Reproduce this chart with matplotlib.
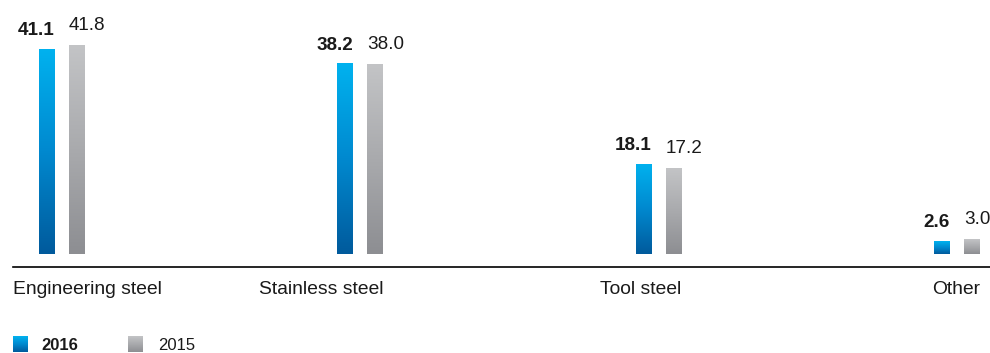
import matplotlib
matplotlib.use("Agg")
import matplotlib.pyplot as plt
import matplotlib.transforms as mtransforms
import numpy as np
from matplotlib.colors import LinearSegmentedColormap

categories = ["Engineering steel", "Stainless steel", "Tool steel", "Other"]
values_2016 = [41.1, 38.2, 18.1, 2.6]
values_2015 = [41.8, 38.0, 17.2, 3.0]
years = ["2016", "2015"]

plt.rcParams["font.family"] = ["Liberation Sans", "DejaVu Sans"]

W, H = 990, 353
fig = plt.figure(figsize=(W / 100, H / 100), dpi=100)
ax = fig.add_axes([13 / W, (H - 267) / H, (W - 13) / W, 267 / H])

blue = LinearSegmentedColormap.from_list("blue", ["#005a9c", "#0089cf", "#00b2ef"])
grey = LinearSegmentedColormap.from_list("grey", ["#8d8e92", "#a9aaad", "#c3c4c6"])
grad = np.linspace(0, 1, 256).reshape(-1, 1)

x = np.arange(len(categories))
bw, off = 0.0536, 0.0503


def gradient_bars(xs, vals, cmap):
    bars = ax.bar(xs, vals, width=bw, color="none", linewidth=0)
    for b in bars:
        x0, y0 = b.get_x(), b.get_y()
        im = ax.imshow(grad, cmap=cmap, origin="lower", aspect="auto",
                       extent=(x0, x0 + b.get_width(), y0, y0 + b.get_height()),
                       zorder=2)
        im.set_clip_path(b)
    return bars


gradient_bars(x - off, values_2016, blue)
gradient_bars(x + off, values_2015, grey)

ax.set_xlim(-0.164, 3.111)
ax.set_ylim(-2.606, 50.92)
for s in ["top", "right", "left"]:
    ax.spines[s].set_visible(False)
ax.spines["bottom"].set_linewidth(1.2)
ax.set_xticks([])
ax.set_yticks([])

# value labels: 2016 right-aligned over blue bar, 2015 left-aligned over grey bar
for xi, v16, v15 in zip(x, values_2016, values_2015):
    ax.annotate(f"{v16:.1f}", (xi - off + bw / 2, v16), xytext=(0, 10),
                textcoords="offset points", ha="right", va="baseline",
                fontsize=13.6, fontweight="bold", color="#1a1a1a")
    ax.annotate(f"{v15:.1f}", (xi + off - bw / 2, v15), xytext=(0, 11),
                textcoords="offset points", ha="left", va="baseline",
                fontsize=13.6, color="#1a1a1a")

# category labels
trans = mtransforms.blended_transform_factory(ax.transData, ax.transAxes)
ly = -27 / 267
ax.text(-0.164, ly, categories[0], transform=trans, ha="left", va="baseline",
        fontsize=13.9, color="#1a1a1a")
for xi, name in zip(x[1:], categories[1:]):
    ax.text(xi + off + bw / 2, ly, name, transform=trans, ha="right",
            va="baseline", fontsize=13.9, color="#1a1a1a")

# legend
for px, cmap, label, weight, tx in [(13, blue, years[0], "bold", 41),
                                    (128, grey, years[1], "normal", 158)]:
    sw = fig.add_axes([px / W, (H - 352) / H, 15 / W, 16 / H])
    sw.imshow(grad, cmap=cmap, origin="lower", aspect="auto")
    sw.axis("off")
    fig.text(tx / W, (H - 350) / H, label, ha="left", va="baseline",
             fontsize=12, fontweight=weight, color="#1a1a1a")

fig.savefig("out.png", dpi=100)
